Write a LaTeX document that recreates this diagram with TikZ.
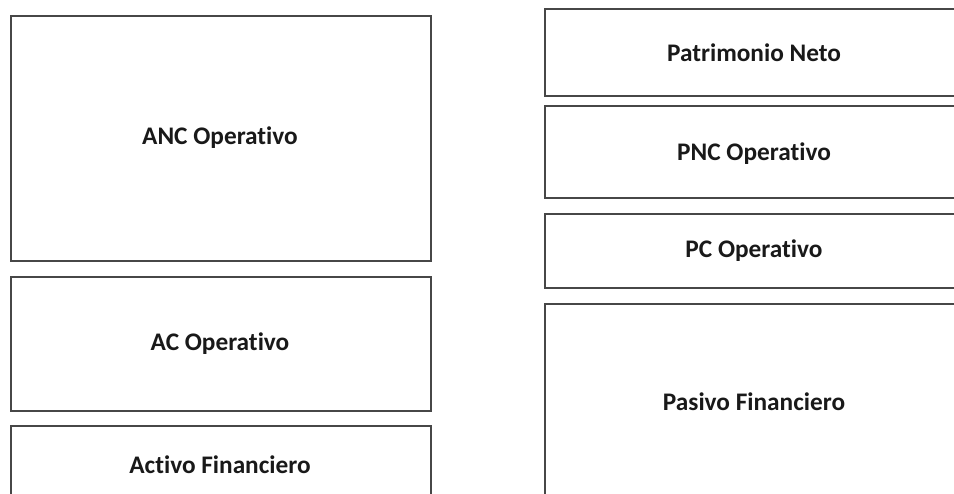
\documentclass[tikz,border=0pt]{standalone}
\usepackage{fontspec}
\setmainfont[Ligatures=NoCommon]{Carlito}
\begin{document}
\begin{tikzpicture}[x=1pt,y=-1pt,
  blk/.style={draw=black!72,line width=1.2pt},
  lbl/.style={font=\bfseries\fontsize{25.3}{29}\selectfont,text=black!90,inner sep=0pt}]
\useasboundingbox[fill=white] (0,0) rectangle (954,494);
\begin{scope}
\clip (0,0) rectangle (954,494);
% left column
\draw[blk] (11,16) rectangle (431,261);
\draw[blk] (11,277) rectangle (431,411);
\draw[blk] (11,426) rectangle (431,510);
% right column
\draw[blk] (545,9) rectangle (970,96);
\draw[blk] (545,106) rectangle (970,198);
\draw[blk] (545,214) rectangle (970,288);
\draw[blk] (545,304) rectangle (970,510);
\end{scope}
\node[lbl] (anc) at (220,138) {ANC Operativo};
\node[lbl] (ac) at (220,344) {AC Operativo};
\node[lbl] (af) at (220,465) {Activo Financiero};
\node[lbl] (pn) at (754,53) {Patrimonio Neto};
\node[lbl] (pnc) at (754,154) {PNC Operativo};
\node[lbl] (pc) at (754,251) {PC Operativo};
\node[lbl] (pf) at (754,402) {Pasivo Financiero};
\end{tikzpicture}
\end{document}
